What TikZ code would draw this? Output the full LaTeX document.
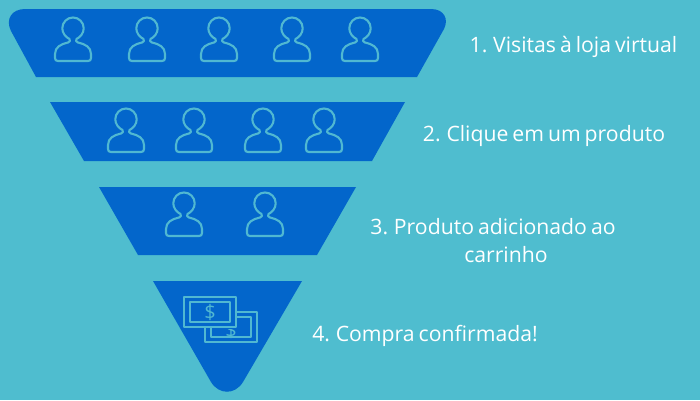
\documentclass[tikz,border=0pt]{standalone}
\usepackage{fontspec}
\setmainfont[WordSpace=0.72]{Open Sans}
\definecolor{bgc}{HTML}{4FBDCF}
\definecolor{fun}{HTML}{0366CB}
\definecolor{ico}{HTML}{50B8D2}
\tikzset{
  funnel/.style={fill=fun,draw=none},
  iconline/.style={draw=ico,line width=2.1pt,line join=round,fill=none},
  lbl/.style={text=white,font=\fontsize{21.2}{26}\selectfont,align=center,inner sep=0pt},
  person/.pic={
    \draw[iconline] (-3.5,-7) .. controls (-7.5,-9) and (-10.7,-13) .. (-10.7,-17.8)
      .. controls (-10.7,-23.7) and (-5.9,-28.5) .. (0,-28.5)
      .. controls (5.9,-28.5) and (10.7,-23.7) .. (10.7,-17.8)
      .. controls (10.7,-13) and (7.5,-9) .. (3.5,-7)
      .. controls (2.5,-5.5) and (3,-4) .. (5,-3.5)
      .. controls (12,-2) and (18,1) .. (18,8)
      -- (18,12) .. controls (18,14) and (17,15) .. (15,15)
      -- (-15,15) .. controls (-17,15) and (-18,14) .. (-18,12)
      -- (-18,8) .. controls (-18,1) and (-12,-2) .. (-5,-3.5)
      .. controls (-3,-4) and (-2.5,-5.5) .. (-3.5,-7) -- cycle;
  }
}
\begin{document}
\begin{tikzpicture}[x=1pt,y=-1pt]
\useasboundingbox (0,0) rectangle (700,400);
\fill[bgc] (0,0) rectangle (700,400);
\fill[funnel] (36,77) -- (11,31) .. controls (5,19) and (12,9) .. (25,9) -- (431,9) .. controls (444,9) and (449,19) .. (444,29) -- (417,77) -- cycle;
\fill[funnel] (50,102) -- (405,102) -- (372,161) -- (84,161) -- cycle;
\fill[funnel] (99,187) -- (356,187) -- (317,255) -- (138,255) -- cycle;
\fill[funnel] (153,281) -- (302,281) -- (243,382) .. controls (235,395) and (219,395) .. (211,382) -- cycle;
\foreach \x in {73,147,219,292,360} \pic at (\x,46) {person};
\foreach \x in {126,194,263,324} \pic at (\x,137) {person};
\foreach \x in {184,265} \pic at (\x,221) {person};
% banknotes
\draw[iconline] (205,312) rectangle (257,342);
\draw[iconline] (211,317) rectangle (251,337);
\fill[fun] (183,297) rectangle (236,328);
\draw[iconline] (184,297) rectangle (236,327);
\draw[iconline] (190,302) rectangle (230,322);
\node[text=ico,font=\fontsize{20}{20}\selectfont,inner sep=0pt] (d1) at (210,312.5) {\$};
\begin{scope}
\clip (205,329.2) rectangle (257,338);
\node[text=ico,font=\fontsize{20}{20}\selectfont,inner sep=0pt] (d2) at (231,330) {\$};
\end{scope}
\node[lbl] (t1) at (573.5,46.5) {1. Visitas à loja virtual};
\node[lbl] (t2) at (544,135.5) {2. Clique em um produto};
\node[lbl] (t3a) at (493,226.5) {3. Produto adicionado ao};
\node[lbl] (t3b) at (506,254.5) {carrinho};
\node[lbl] (t4) at (425,335.5) {4. Compra confirmada!};
\end{tikzpicture}
\end{document}
